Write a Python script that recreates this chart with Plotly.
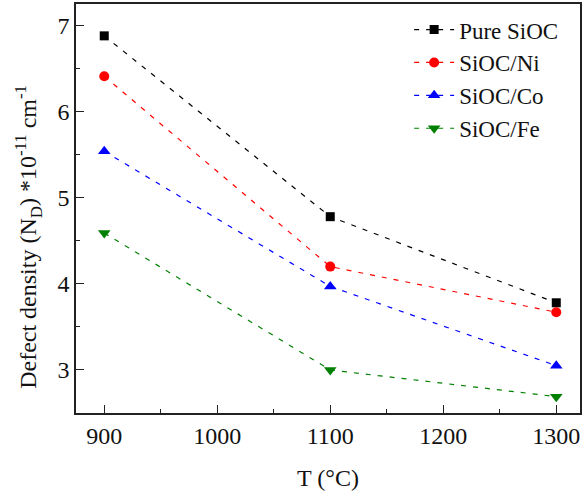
import plotly.graph_objects as go

# Annealing temperature (°C)
temperature = [900, 1100, 1300]

# Defect density N_D (×10^-11 cm^-1)
pure_sioc = [6.88, 4.78, 3.78]
sioc_ni = [6.41, 4.20, 3.67]
sioc_co = [5.54, 3.97, 3.05]
sioc_fe = [4.59, 3.00, 2.69]

series = [
    ("Pure SiOC", pure_sioc, "black", "square", 9),
    ("SiOC/Ni", sioc_ni, "red", "circle", 10),
    ("SiOC/Co", sioc_co, "blue", "triangle-up", 11),
    ("SiOC/Fe", sioc_fe, "green", "triangle-down", 11),
]

FONT = "Times New Roman, Liberation Serif, serif"
FS = 24

fig = go.Figure()
for name, vals, color, symbol, size in series:
    fig.add_trace(go.Scatter(
        x=temperature, y=vals, name=name, mode="lines+markers",
        line=dict(color=color, width=1.2, dash="5px,7px"),
        marker=dict(symbol=symbol, size=size, color=color),
    ))

axis_common = dict(
    showline=True, linecolor="#222", linewidth=1.5, mirror=True,
    ticks="inside", ticklen=8, tickwidth=1.2, tickcolor="#222",
    showgrid=False, zeroline=False,
    tickfont=dict(family=FONT, size=FS, color="#111"),
)

fig.update_xaxes(
    range=[875, 1321], tickvals=[900, 1000, 1100, 1200, 1300],
    minor=dict(ticks="inside", ticklen=4, tickwidth=1.2, tickcolor="#222", dtick=50, tick0=900),
    title=dict(text="T (°C)", font=dict(family=FONT, size=FS, color="#111"), standoff=22),
    **axis_common,
)
fig.update_yaxes(
    range=[2.5, 7.25], tickvals=[3, 4, 5, 6, 7],
    minor=dict(ticks="inside", ticklen=4, tickwidth=1.2, tickcolor="#222", dtick=0.5, tick0=3),
    **axis_common,
)

# y-axis title placed as a rotated annotation, sitting slightly below centre
fig.add_annotation(
    text="Defect density (N<sub>D</sub>) *10<sup>-11</sup> cm<sup>-1</sup>",
    xref="paper", yref="paper", x=-0.095, y=0.431,
    xanchor="center", yanchor="middle", textangle=-90, showarrow=False,
    font=dict(family=FONT, size=FS, color="#111"),
)

fig.update_layout(
    width=584, height=495,
    margin=dict(l=76, r=4, t=2, b=82),
    paper_bgcolor="white", plot_bgcolor="white",
    font=dict(family=FONT, size=FS, color="#111"),
    showlegend=True,
    legend=dict(
        x=0.661, y=0.99, xanchor="left", yanchor="top",
        bgcolor="rgba(0,0,0,0)", borderwidth=0,
        font=dict(family=FONT, size=23, color="#111"),
        tracegroupgap=0, itemwidth=40,
    ),
)

fig.write_html("out.html")
